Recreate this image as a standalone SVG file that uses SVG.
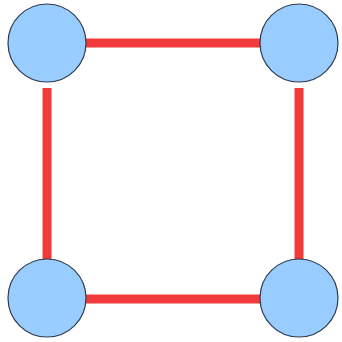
<svg xmlns="http://www.w3.org/2000/svg" width="342" height="342" viewBox="0 0 342 342">
<style>
.edge{stroke:#f33a3a;stroke-width:9;fill:none}
.node{fill:#99ccff;stroke:#2b3b4f;stroke-width:1.2}
</style>
<rect width="342" height="342" fill="#ffffff"/>
<g id="connectors">
<line class="edge" x1="86" y1="43" x2="260" y2="43"/>
<line class="edge" x1="47" y1="88" x2="47" y2="259"/>
<line class="edge" x1="299" y1="88" x2="299" y2="259"/>
<line class="edge" x1="86" y1="299" x2="260" y2="299"/>
</g>
<g id="node-tl"><circle class="node" cx="47" cy="43" r="39"/></g>
<g id="node-tr"><circle class="node" cx="299" cy="43" r="39"/></g>
<g id="node-bl"><circle class="node" cx="47" cy="298" r="39"/></g>
<g id="node-br"><circle class="node" cx="299" cy="298" r="39"/></g>
</svg>
